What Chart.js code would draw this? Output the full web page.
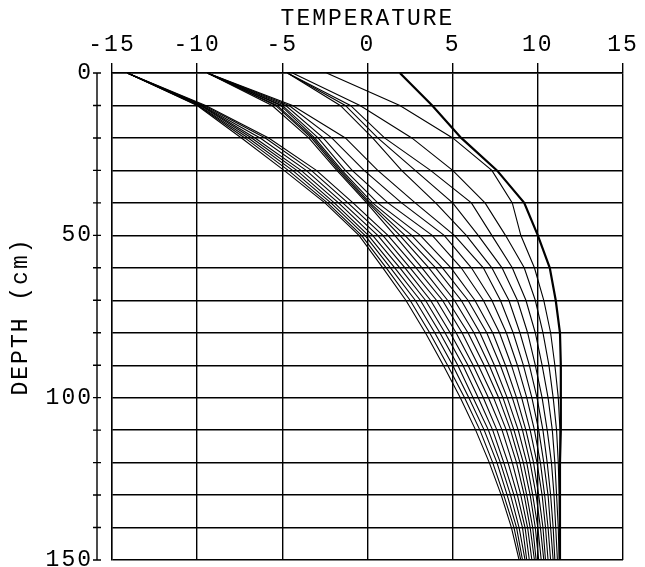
<!DOCTYPE html>
<html><head><meta charset="utf-8">
<script src="https://cdn.jsdelivr.net/npm/chart.js@4.4.1/dist/chart.umd.min.js"></script>
<style>html,body{margin:0;padding:0;background:#fff}#wrap{width:645px;height:567px}</style>
</head><body><div id="wrap"><canvas id="c" width="645" height="567"></canvas></div>
<script>
const depths = [0,10,20,30,40,50,60,70,80,90,100,110,120,130,140,150];
const tempTicks = [-15,-10,-5,0,5,10,15];
const depthLabels = [0,50,100,150];

const profile00 = [1.9, 3.8, 5.5, 7.6, 9.2, 10.0, 10.7, 11.05, 11.3, 11.35, 11.35, 11.35, 11.3, 11.3, 11.3, 11.3];
const profile01 = [-2.4, 1.9, 5.0, 7.3, 8.5, 9.0, 9.8, 10.35, 10.75, 11.0, 11.2, 11.3, 11.3, 11.3, 11.3, 11.3];
const profile02 = [-4.4, -0.44, 2.6, 5.0, 6.9, 8.1, 9.2, 9.85, 10.3, 10.65, 10.9, 11.1, 11.2, 11.25, 11.3, 11.3];
const profile03 = [-4.7, -1.0, 1.0, 3.7, 6.1, 7.3, 8.5, 9.3, 9.85, 10.25, 10.6, 10.85, 11.0, 11.1, 11.2, 11.25];
const profile04 = [-4.7, -1.3, 0.6, 2.8, 5.0, 6.5, 7.9, 8.8, 9.4, 9.85, 10.25, 10.55, 10.8, 10.95, 11.05, 11.15];
const profile05 = [-4.7, -1.6, 0.3, 2.0, 4.0, 5.8, 7.3, 8.3, 8.95, 9.5, 9.95, 10.3, 10.55, 10.75, 10.9, 11.0];
const profile06 = [-9.4, -4.4, -1.3, 0.6, 2.8, 5.1, 6.8, 7.8, 8.55, 9.15, 9.65, 10.05, 10.35, 10.6, 10.75, 10.9];
const profile07 = [-9.4, -4.6, -2.1, -0.2, 2.0, 4.5, 6.1, 7.3, 8.15, 8.8, 9.35, 9.8, 10.15, 10.4, 10.6, 10.75];
const profile08 = [-9.4, -4.8, -2.6, -0.9, 1.2, 3.8, 5.5, 6.8, 7.75, 8.45, 9.05, 9.55, 9.95, 10.25, 10.45, 10.6];
const profile09 = [-9.4, -5.0, -2.9, -1.3, 0.6, 3.1, 4.9, 6.3, 7.35, 8.1, 8.75, 9.3, 9.75, 10.05, 10.3, 10.45];
const profile10 = [-9.4, -5.1, -3.1, -1.5, 0.3, 2.6, 4.4, 5.9, 7.0, 7.8, 8.5, 9.1, 9.55, 9.9, 10.15, 10.35];
const profile11 = [-9.4, -5.3, -3.2, -1.6, 0.15, 2.2, 4.0, 5.5, 6.6, 7.45, 8.2, 8.85, 9.35, 9.7, 10.0, 10.2];
const profile12 = [-9.4, -5.4, -3.3, -1.7, 0.05, 1.9, 3.6, 5.1, 6.25, 7.15, 7.95, 8.6, 9.15, 9.55, 9.85, 10.05];
const profile13 = [-9.4, -5.6, -3.45, -1.8, -0.05, 1.6, 3.2, 4.7, 5.9, 6.85, 7.7, 8.4, 8.95, 9.35, 9.7, 9.9];
const profile14 = [-14.1, -9.5, -5.8, -3.0, -0.85, 1.2, 2.85, 4.4, 5.55, 6.5, 7.4, 8.15, 8.75, 9.2, 9.55, 9.8];
const profile15 = [-14.1, -9.6, -6.0, -3.3, -1.15, 0.9, 2.5, 4.05, 5.2, 6.2, 7.1, 7.9, 8.5, 9.0, 9.4, 9.65];
const profile16 = [-14.1, -9.7, -6.3, -3.6, -1.45, 0.6, 2.2, 3.7, 4.85, 5.9, 6.8, 7.6, 8.25, 8.8, 9.25, 9.5];
const profile17 = [-14.1, -9.75, -6.6, -3.9, -1.7, 0.3, 1.9, 3.4, 4.55, 5.6, 6.5, 7.35, 8.0, 8.6, 9.1, 9.35];
const profile18 = [-14.1, -9.8, -6.8, -4.15, -1.95, 0.05, 1.6, 3.1, 4.25, 5.3, 6.2, 7.1, 7.8, 8.4, 8.9, 9.25];
const profile19 = [-14.1, -9.9, -7.0, -4.4, -2.15, -0.15, 1.35, 2.8, 3.95, 5.0, 5.95, 6.85, 7.6, 8.2, 8.75, 9.1];
const profile20 = [-14.1, -9.95, -7.2, -4.65, -2.35, -0.35, 1.1, 2.5, 3.65, 4.7, 5.7, 6.6, 7.35, 8.0, 8.6, 9.0];
const profile21 = [-14.1, -10.0, -7.4, -4.9, -2.5, -0.5, 0.9, 2.25, 3.4, 4.45, 5.45, 6.35, 7.15, 7.85, 8.45, 8.9];

const profiles = [profile00, profile01, profile02, profile03, profile04, profile05, profile06, profile07,
  profile08, profile09, profile10, profile11, profile12, profile13, profile14, profile15, profile16,
  profile17, profile18, profile19, profile20, profile21];

const FONT = "'Liberation Mono', 'DejaVu Sans Mono', monospace";

const spacing = {
  id: 'spacing',
  beforeUpdate(chart) { chart.ctx.letterSpacing = '2px'; },
  beforeDraw(chart) { chart.ctx.letterSpacing = '2px'; }
};

const leftAxis = {
  id: 'leftAxis',
  afterDraw(chart) {
    const ctx = chart.ctx, ys = chart.scales.y;
    const x0 = chart.chartArea.left - 15;
    ctx.save();
    ctx.strokeStyle = '#000';
    ctx.lineWidth = 1.4;
    ctx.beginPath();
    ctx.moveTo(x0, ys.getPixelForValue(depths[0]));
    ctx.lineTo(x0, ys.getPixelForValue(depths[depths.length - 1]));
    depths.forEach(d => {
      const py = ys.getPixelForValue(d);
      ctx.moveTo(x0 - 4, py);
      ctx.lineTo(x0 + 4, py);
    });
    ctx.stroke();
    ctx.restore();
  }
};

new Chart(document.getElementById('c'), {
  type: 'scatter',
  data: {
    datasets: profiles.map((p, k) => ({
      data: depths.map((d, i) => ({x: p[i], y: d})),
      showLine: true,
      borderColor: '#000',
      borderWidth: k === 0 ? 2.2 : 1.1,
      pointRadius: 0,
      tension: 0
    }))
  },
  options: {
    responsive: false,
    animation: false,
    layout: {padding: {top: 0, left: 0, right: 22, bottom: 7}},
    plugins: {legend: {display: false}, tooltip: {enabled: false}},
    scales: {
      x: {
        type: 'linear', position: 'top', min: -15, max: 15,
        afterBuildTicks: s => { s.ticks = tempTicks.map(v => ({value: v})); },
        ticks: {color: '#000', font: {family: FONT, size: 23}, padding: 4},
        grid: {color: '#000', lineWidth: 1.4, tickLength: 10, drawTicks: true},
        border: {display: true, color: '#000', width: 1.4},
        title: {display: true, text: 'TEMPERATURE', color: '#000', font: {family: FONT, size: 23}, padding: {top: 5, bottom: 0}},
        afterFit: s => { s.height = 73; }
      },
      y: {
        type: 'linear', reverse: true, min: 0, max: 150,
        afterBuildTicks: s => { s.ticks = depths.map(v => ({value: v})); },
        ticks: {color: '#000', font: {family: FONT, size: 23}, padding: 19,
          callback: v => depthLabels.includes(v) ? String(v) : ''},
        grid: {color: '#000', lineWidth: 1.4, drawTicks: false},
        border: {display: true, color: '#000', width: 1.4},
        title: {display: true, text: 'DEPTH (cm)', color: '#000', font: {family: FONT, size: 23}, padding: {top: 7, bottom: 0}},
        afterFit: s => { s.width = 112; s.paddingTop = 0; s.paddingBottom = 0; }
      }
    }
  },
  plugins: [spacing, leftAxis]
});
</script></body></html>
